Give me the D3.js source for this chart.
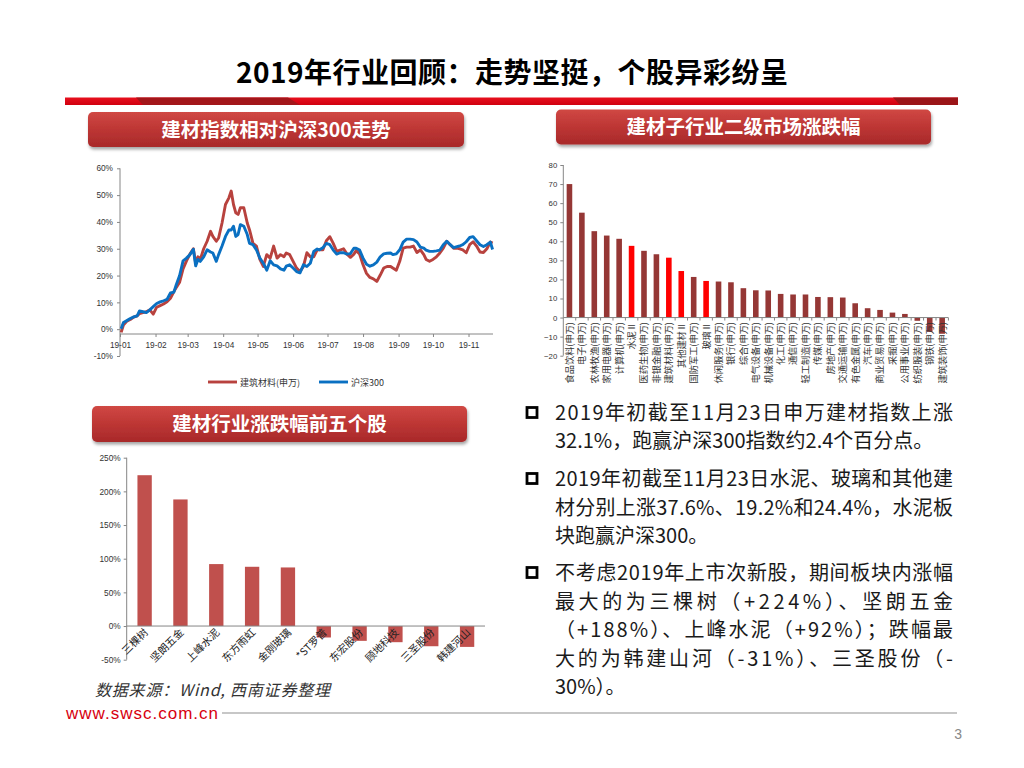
<!DOCTYPE html>
<html><head><meta charset="utf-8">
<script src="https://cdn.jsdelivr.net/npm/d3@7/dist/d3.min.js"></script>
<style>
body{margin:0;background:#fff;}
svg{display:block;font-family:"Noto Sans CJK SC","Noto Sans",sans-serif;}
</style></head><body>
<svg id="slide" width="1024" height="768"></svg>
<script>
// ---------- DATA ----------
const lineDates = ["01-02","01-04","01-07","01-10","01-13","01-16","01-18","01-21","01-24","01-27","01-30","02-02","02-05","02-08","02-11","02-14","02-17","02-19","02-22","02-25","02-28","03-03","03-06","03-08","03-10","03-12","03-15","03-18","03-21","03-23","03-26","03-28","03-31","04-03","04-06","04-08","04-10","04-12","04-14","04-16","04-19","04-22","04-24","04-27","04-30","05-03","05-06","05-09","05-12","05-15","05-18","05-21","05-24","05-26","05-29","06-01","06-04","06-07",
"06-10","06-13","06-16","06-19","06-22","06-24","06-27","06-30","07-03","07-06","07-09","07-12","07-15","07-18","07-21","07-24","07-26","07-29","08-01","08-04","08-07","08-10","08-13","08-16","08-19","08-22","08-25","08-27","08-30","09-02","09-05","09-08","09-11","09-14","09-17","09-20","09-23","09-25","09-28","10-01","10-04","10-07","10-10","10-13","10-16","10-19","10-22","10-25","10-27","10-30","11-02","11-05","11-08","11-11","11-14","11-17","11-20","11-22"];
const jiancaiSeries = [-1.2,1.5,3.0,3.6,4.5,5.0,5.8,6.2,6.5,7.2,5.6,8.2,8.8,9.4,10.2,11.5,14.0,15.5,17.5,22.5,25.5,28.0,30.0,24.6,27,26,30,32.8,36.5,34.6,32.8,34,39.6,46.5,49,51.5,46.5,43.4,42.8,45.3,45.3,39.6,37,32,31,26,23.4,27.8,26.5,31,26.5,27.8,27,28.4,27.8,25.3,22.8,21.5,
23.4,28.5,27,27,29.6,29.6,29.6,33,34.5,32,29,29.5,30,28,26.8,28,29.3,28,24,20.8,19.3,18.8,17.8,20.2,22.8,23.4,23.4,22.8,22,25.3,30.2,30.6,30.6,31,28.6,29.6,27.8,26,25.3,26,27,28.4,30.2,32.8,31.5,30.2,30.2,29.9,29.6,28.5,31.5,32.6,31,28.8,28.6,30,32.5,32.1];
const hs300Series = [0.2,2.5,3.2,4.0,4.6,5.0,6.8,6.5,6.2,7.2,8.4,9.6,10.2,10.6,11.1,13.5,13.8,16.5,20,25.5,26.5,27.8,29.8,23.6,26,25.3,27,29.6,28.8,28.4,25.3,27.8,31,34.6,37,37,38.4,34.6,35.3,39,38.4,35.3,32,31.5,29.6,26.5,24.6,22,25.5,24,23.6,22.5,22,23.5,24,22.8,21.5,21,
24,23.4,24.6,29.0,29.9,29.6,30.4,32,31.5,29.5,28.0,28.5,28.5,28.0,28.2,30.2,30.2,29.5,26.5,24.2,23.5,24,25.0,27,28.1,28.3,28.4,27.8,28.1,29.6,32.5,33.6,33.6,33.4,32.5,30.6,30.2,29.5,29,29,29.2,29.5,31.5,32.8,31.5,30.4,30.8,31.2,31.5,32.6,34.2,34.5,33,31.5,30.8,31.5,32.5,29.7];
const lineSeriesNames = ["建筑材料(申万)","沪深300"];
const monthTicks = ["19-01","19-02","19-03","19-04","19-05","19-06","19-07","19-08","19-09","19-10","19-11"];
const lineYTicks = [-10,0,10,20,30,40,50,60];

const industryNames = ["食品饮料(申万)","电子(申万)","农林牧渔(申万)","家用电器(申万)","计算机(申万)","水泥Ⅱ","医药生物(申万)","非银金融(申万)","建筑材料(申万)","其他建材Ⅱ","国防军工(申万)","玻璃Ⅱ","休闲服务(申万)","银行(申万)","综合(申万)","电气设备(申万)","机械设备(申万)","化工(申万)","通信(申万)","轻工制造(申万)","传媒(申万)","房地产(申万)","交通运输(申万)","有色金属(申万)","汽车(申万)","商业贸易(申万)","采掘(申万)","公用事业(申万)","纺织服装(申万)","钢铁(申万)","建筑装饰(申万)"];
const industryChange = [70,55,45.3,43,41.3,37.6,35,33.2,31.4,24.4,21.3,19.2,18.9,18.5,15.4,14.3,14.2,12.4,12.1,12.1,10.8,10.7,10.5,7.5,4.9,4.0,2.6,1.9,-1.7,-7.5,-8.5];
const industryHighlight = ["水泥Ⅱ","建筑材料(申万)","其他建材Ⅱ","玻璃Ⅱ"];
const industryYTicks = [-20,-10,0,10,20,30,40,50,60,70,80];

const stockNames = ["三棵树","坚朗五金","上峰水泥","东方雨虹","金刚玻璃","*ST罗普","东宏股份","顾地科技","三圣股份","韩建河山"];
const stockChange = [224,188,92,88,87,-17,-22,-24,-30,-31];
const stockYTicks = [-50,0,50,100,150,200,250];

const slideTitle = "2019年行业回顾：走势坚挺，个股异彩纷呈";
const panelTitles = ["建材指数相对沪深300走势","建材子行业二级市场涨跌幅","建材行业涨跌幅前五个股"];
const bullets = [
  ["2019年初截至11月23日申万建材指数上涨","32.1%，跑赢沪深300指数约2.4个百分点。"],
  ["2019年初截至11月23日水泥、玻璃和其他建","材分别上涨37.6%、19.2%和24.4%，水泥板","块跑赢沪深300。"],
  ["不考虑2019年上市次新股，期间板块内涨幅","最大的为三棵树（+224%）、坚朗五金","（+188%）、上峰水泥（+92%）；跌幅最","大的为韩建山河（-31%）、三圣股份（-","30%）。"]
];
const sourceNote = "数据来源：Wind, 西南证券整理";
const siteUrl = "www.swsc.com.cn";
const pageNo = "3";

// ---------- DRAW ----------
const svg = d3.select("#slide");
const defs = svg.append("defs");

// Title
svg.append("text").attr("x",236).attr("y",83)
  .attr("font-size",28).attr("font-weight","bold").attr("fill","#000")
  .attr("textLength",552).attr("lengthAdjust","spacing").text(slideTitle);

// red banner
const bannerGrad = defs.append("linearGradient").attr("id","bannerGrad").attr("x1","0").attr("x2","0").attr("y1","0").attr("y2","1");
bannerGrad.append("stop").attr("offset","0").attr("stop-color","#e8101e");
bannerGrad.append("stop").attr("offset","1").attr("stop-color","#d0000f");
svg.append("rect").attr("x",65).attr("y",97.5).attr("width",893).attr("height",7.5).attr("fill","url(#bannerGrad)");
svg.append("path").attr("d","M136,97.5 L288,97.5 L300,105 L143,105 Z").attr("fill","#a3161a");
svg.append("path").attr("d","M893,97.5 L958,97.5 L958,105 L900,105 Z").attr("fill","#9b1518");

// Panel header boxes
const boxGrad = defs.append("linearGradient").attr("id","boxGrad").attr("x1","0").attr("x2","0").attr("y1","0").attr("y2","1");
boxGrad.append("stop").attr("offset","0").attr("stop-color","#d04844");
boxGrad.append("stop").attr("offset","0.5").attr("stop-color","#bd3634");
boxGrad.append("stop").attr("offset","1").attr("stop-color","#a8292a");
const shadow = defs.append("filter").attr("id","shadow").attr("x","-10%").attr("y","-30%").attr("width","120%").attr("height","170%");
shadow.append("feDropShadow").attr("dx",1).attr("dy",2.5).attr("stdDeviation",1.8).attr("flood-color","#000").attr("flood-opacity",0.35);
const boxes = [{x:88,y:112,w:376,h:35},{x:556,y:109.5,w:375,h:35},{x:92,y:406,w:375,h:36}];
boxes.forEach((b,i)=>{
  svg.append("rect").attr("x",b.x).attr("y",b.y).attr("width",b.w).attr("height",b.h).attr("rx",5)
    .attr("fill","url(#boxGrad)").attr("filter","url(#shadow)");
  svg.append("text").attr("x",b.x+b.w/2).attr("y",b.y+b.h/2+7).attr("text-anchor","middle")
    .attr("font-size",19.5).attr("font-weight","bold").attr("fill","#fff").text(panelTitles[i]);
});

// ---------- Line chart ----------
const parseD = d3.timeParse("%Y-%m-%d");
const lx = d3.scaleTime().domain([parseD("2019-01-01"),parseD("2019-11-22")]).range([120,492.6]);
const ly = d3.scaleLinear().domain([-10,60]).range([356,168.3]);
const axisY0 = 334;
const gl = svg.append("g");
const yAx = gl.append("g").attr("transform","translate(120,0)")
  .call(d3.axisLeft(ly).tickValues(lineYTicks).tickSize(3).tickFormat(d=>d+"%"));
yAx.select(".domain").attr("stroke","#868686").attr("d","M0,"+ly(60)+"V"+ly(-10));
yAx.selectAll(".tick line").attr("stroke","#868686");
yAx.selectAll("text").attr("font-size",8.3).attr("fill","#333").attr("x",-7).attr("font-family","Liberation Sans, Arial, sans-serif");
const monthDates = monthTicks.map(m=>parseD("20"+m.slice(0,2)+"-"+m.slice(3)+"-01"));
const xAx = gl.append("g").attr("transform","translate(0,"+axisY0+")")
  .call(d3.axisBottom(lx).tickValues(monthDates).tickSize(3).tickFormat((d,i)=>monthTicks[i]));
xAx.select(".domain").attr("stroke","#868686").attr("d","M120,0H493");
xAx.selectAll(".tick line").attr("stroke","#868686");
xAx.selectAll("text").attr("font-size",8.3).attr("fill","#333").attr("y",8).attr("font-family","Liberation Sans, Arial, sans-serif");

const lineGen = d3.line().x((d,i)=>lx(parseD("2019-"+lineDates[i]))).y(d=>ly(d));
const lineColors = ["#b8423e","#0a70c2"];
[jiancaiSeries,hs300Series].forEach((s,k)=>{
  gl.append("path").datum(s).attr("d",lineGen).attr("fill","none")
    .attr("stroke",lineColors[k]).attr("stroke-width",2.9).attr("stroke-linejoin","round");
});
const legItems = [{x:208},{x:319}];
legItems.forEach((l,k)=>{
  gl.append("line").attr("x1",l.x).attr("x2",l.x+29).attr("y1",382).attr("y2",382)
    .attr("stroke",lineColors[k]).attr("stroke-width",2.9);
  gl.append("text").attr("x",l.x+32).attr("y",385.5).attr("font-size",9).attr("fill","#333").text(lineSeriesNames[k]);
});

// ---------- Industry bar chart ----------
const bx = d3.scaleBand().domain(industryNames).range([563.3,948.3]).paddingInner(0.55).paddingOuter(0.27);
const by = d3.scaleLinear().domain([-20,80]).range([355.7,165]);
const gb = svg.append("g");
gb.selectAll("rect").data(industryChange).join("rect")
  .attr("x",(d,i)=>bx(industryNames[i])).attr("width",bx.bandwidth())
  .attr("y",d=>by(Math.max(0,d))).attr("height",d=>Math.abs(by(d)-by(0)))
  .attr("fill",(d,i)=>industryHighlight.includes(industryNames[i])?"#ff0000":"#953735");
const byAx = gb.append("g").attr("transform","translate(563.3,0)")
  .call(d3.axisLeft(by).tickValues(industryYTicks).tickSize(3));
byAx.select(".domain").attr("stroke","#868686").attr("d","M0,"+by(80)+"V"+by(-20));
byAx.selectAll(".tick line").attr("stroke","#868686");
byAx.selectAll("text").attr("font-size",7.8).attr("fill","#333").attr("x",-6).attr("font-family","Liberation Sans, Arial, sans-serif");
gb.append("line").attr("x1",563.3).attr("x2",948.3).attr("y1",by(0)).attr("y2",by(0)).attr("stroke","#868686");
const bstep = bx.step();
industryNames.forEach((n,i)=>{
  const edge = 563.3 + bstep*(i+1);
  gb.append("line").attr("x1",edge).attr("x2",edge).attr("y1",by(0)).attr("y2",by(0)+3).attr("stroke","#868686");
  const cx = bx(n)+bx.bandwidth()/2;
  gb.append("text").attr("transform","translate("+(cx+3.4)+","+(by(0)+4.5)+") rotate(-90)")
    .attr("text-anchor","end").attr("font-size",9.2).attr("fill","#333").text(n);
});

// ---------- Stock bar chart ----------
const sx = d3.scaleBand().domain(stockNames).range([126.7,485]).paddingInner(0.6).paddingOuter(0.3);
const sy = d3.scaleLinear().domain([-50,250]).range([659.7,457.7]);
const gs = svg.append("g");
gs.selectAll("rect").data(stockChange).join("rect")
  .attr("x",(d,i)=>sx(stockNames[i])).attr("width",sx.bandwidth())
  .attr("y",d=>sy(Math.max(0,d))).attr("height",d=>Math.abs(sy(d)-sy(0)))
  .attr("fill","#c0504d");
const syAx = gs.append("g").attr("transform","translate(126.7,0)")
  .call(d3.axisLeft(sy).tickValues(stockYTicks).tickSize(3).tickFormat(d=>d+"%"));
syAx.select(".domain").attr("stroke","#868686").attr("d","M0,"+sy(250)+"V"+sy(-50));
syAx.selectAll(".tick line").attr("stroke","#868686");
syAx.selectAll("text").attr("font-size",8.3).attr("fill","#333").attr("x",-6).attr("font-family","Liberation Sans, Arial, sans-serif");
gs.append("line").attr("x1",126.7).attr("x2",485).attr("y1",sy(0)).attr("y2",sy(0)).attr("stroke","#868686");
stockNames.forEach((n,i)=>{
  const cx = sx(n)+sx.bandwidth()/2;
  gs.append("text").attr("transform","translate("+(cx+4)+","+(sy(0)+7)+") rotate(-45)")
    .attr("text-anchor","end").attr("font-size",10.5).attr("fill","#222").text(n);
});

// ---------- Bullets ----------
const bulletBaselines = [[420,448],[486,514.5,543],[580,608.5,637,665.5,694]];
const fullWidthLines = [[true,false],[true,true,false],[true,true,true,true,false]];
bullets.forEach((lines,bi)=>{
  const b0 = bulletBaselines[bi][0];
  svg.append("rect").attr("x",527).attr("y",b0-12.5).attr("width",10).attr("height",10)
    .attr("fill","none").attr("stroke","#000").attr("stroke-width",2.8);
  lines.forEach((t,li)=>{
    const tx = svg.append("text").attr("x",555).attr("y",bulletBaselines[bi][li])
      .attr("font-size",20).attr("fill","#1a1a1a").text(t);
    if(fullWidthLines[bi][li]) tx.attr("textLength",398).attr("lengthAdjust","spacing");
  });
});

// ---------- Footer ----------
svg.append("text").attr("x",95).attr("y",696).attr("font-size",16).attr("font-style","italic")
  .attr("fill","#333").attr("textLength",235).attr("lengthAdjust","spacing").text(sourceNote);
svg.append("text").attr("x",66).attr("y",719).attr("font-size",17).attr("fill","#d7000f")
  .attr("font-family","Liberation Sans, Arial, sans-serif").attr("textLength",152).text(siteUrl);
svg.append("line").attr("x1",222).attr("x2",957).attr("y1",713).attr("y2",713).attr("stroke","#b5b5b5").attr("stroke-width",1.5);
svg.append("text").attr("x",962).attr("y",739).attr("text-anchor","end").attr("font-size",14).attr("fill","#888")
  .attr("font-family","Liberation Sans, Arial, sans-serif").text(pageNo);
</script>
</body></html>
